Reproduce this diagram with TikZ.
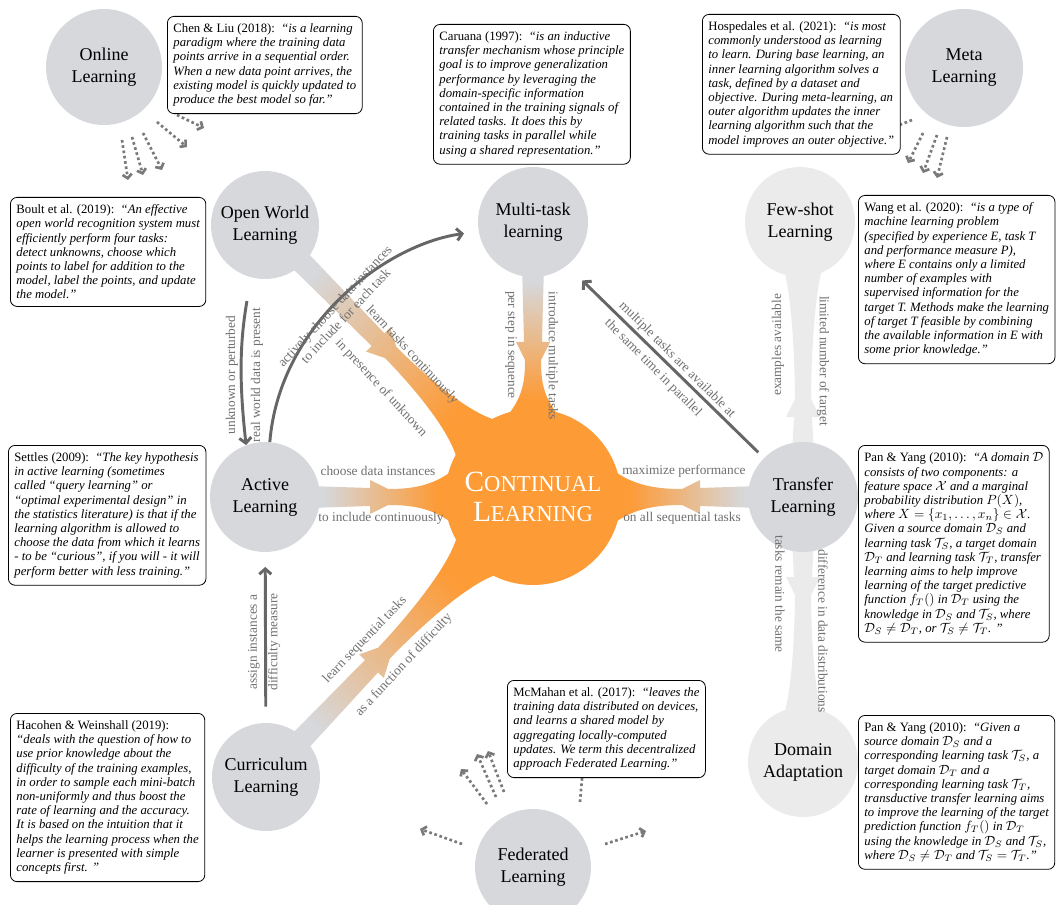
\documentclass[tikz,border=0pt]{standalone}
\usepackage{fontspec}
\setmainfont{Liberation Serif}
\usetikzlibrary{arrows.meta,backgrounds}

\definecolor{cgray}{HTML}{D6D8DC}
\definecolor{clight}{HTML}{EBEBEB}
\definecolor{corange}{HTML}{FD9B37}
\definecolor{carrow}{HTML}{666666}
\definecolor{clabel}{HTML}{707070}
\definecolor{cdot}{HTML}{7A7A7A}
\pgfdeclarehorizontalshading{funnelshade}{100bp}{color(0bp)=(cgray); color(30bp)=(cgray); color(67bp)=(corange); color(100bp)=(corange)}

\begin{document}
\begin{tikzpicture}[x=0.75pt,y=-0.75pt,
	circ/.style={circle, fill=cgray, inner sep=0pt, minimum size=82.5pt, align=center, font=\fontsize{13.5}{16.5}\selectfont},
	pale/.style={circ, fill=clight},
	core/.style={circle, fill=corange, inner sep=0pt, minimum size=132pt, align=center, text=white, font=\fontsize{17}{22}\selectfont},
	quote/.style={draw, line width=0.6pt, rounded corners=5pt, fill=white, anchor=north west, align=left, inner xsep=4.5pt, inner ysep=5.5pt, font=\fontsize{9.55}{10.65}\selectfont\itshape},
	lbl/.style={inner sep=0pt, text=clabel, font=\fontsize{10}{11}\selectfont},
	link/.style={draw=carrow, line width=2.2pt, -{Straight Barb[length=4pt,width=9pt]}},
	fan/.style={draw=cdot, line width=2pt, dash pattern=on 2pt off 2pt, -{Straight Barb[length=3pt,width=7pt]}}]
	\newcommand\Funnel[7]{%
		\begin{scope}[transform canvas={shift={(#1)},rotate=#2}]
			\path[#7] (#3-12,11) -- (#4,9) -- (#4,17) -- (#4+18,8)
				.. controls (#4+40,8) and (#5-8,10) .. (#5+16,#6)
				-- (#5+16,-#6)
				.. controls (#5-8,-10) and (#4+40,-8) .. (#4+18,-8)
				-- (#4,-17) -- (#4,-9) -- (#3-12,-11) -- cycle;
		\end{scope}}
	\newcommand\BigL[1]{{\fontsize{22}{22}\selectfont #1}}
	\newcommand\Src[1]{\textup{#1:}\enspace}

	\useasboundingbox (0,0) rectangle (1056,905);

	% topics
	\node[circ, minimum size=87pt] (online) at (104,67) {Online\\Learning};
	\node[circ, minimum size=88.5pt] (meta) at (964,68) {Meta\\Learning};
	\node[circ, minimum size=81pt] (ow) at (265,225) {Open World\\Learning};
	\node[circ] (multi) at (533,222) {Multi-task\\learning};
	\node[pale] (few) at (800,222) {Few-shot\\Learning};
	\node[circ] (act) at (265,497) {Active\\Learning};
	\node[circ] (trans) at (803,497) {Transfer\\Learning};
	\node[circ, minimum size=81pt] (cur) at (266,777) {Curriculum\\Learning};
	\node[pale] (dom) at (803,762) {Domain\\Adaptation};
	\node[circ, minimum size=87pt] (fed) at (533,867) {Federated\\Learning};
	\node[core] (cl) at (533,497) {\BigL{C}ONTINUAL\\\BigL{L}EARNING};

	% funnels into the centre
	\begin{scope}[on background layer]
		\fill[white] (0,0) rectangle (1056,905);
		\Funnel{ow}{-45.4}{54}{161}{294}{34}{shade, shading=funnelshade}
		\Funnel{multi}{-90}{55}{120}{187}{34}{shade, shading=funnelshade}
		\Funnel{act}{0}{55}{105}{180}{34}{shade, shading=funnelshade}
		\Funnel{trans}{180}{55}{103}{182}{34}{shade, shading=funnelshade}
		\Funnel{cur}{46.4}{54}{153}{299}{34}{shade, shading=funnelshade}
		\Funnel{trans}{90}{55}{80}{225}{24}{fill=clight}
		\Funnel{trans}{-90}{55}{80}{215}{24}{fill=clight}
	\end{scope}

	% dotted hints
	\foreach \sx/\sy/\ex/\ey in {18/73/6/40, 28/70/11/38, 39/66/19/37, 53/55/30/25, 73/48/27/13}
		\draw[fan] ([shift={(\sx,\sy)}]online.center) -- ++(\ex,\ey);
	\foreach \sx/\sy/\ex/\ey in {-41/65/-15/30, -27/67/-14/38, -17/69/-10/41, -52/52/-30/12}
		\draw[fan] ([shift={(\sx,\sy)}]meta.center) -- ++(\ex,\ey);
	\foreach \sx/\sy/\ex/\ey in {-46/-63/-26/-35, -37/-70/-19/-43, -29/-75/-16/-41, -71/-23/-42/-15, 72/-23/41/-13, 47/-65/3/-35}
		\draw[fan] ([shift={(\sx,\sy)}]fed.center) -- ++(\ex,\ey);

	% solid links
	\draw[link, shorten <=18pt] (ow.255) to[bend right=8] (act.110);
	\draw[link, shorten >=11pt] (act.85) .. controls +(10,-120) and +(-90,12) .. (multi.190);
	\draw[link, shorten <=6pt, shorten >=16pt] (trans.135) -- (multi.-52);
	\draw[link, shorten <=12pt, shorten >=11pt] (cur) -- (act);

	% labels
	\node[lbl] (l1) at (378,471) {choose data instances};
	\node[lbl] (l2) at (381,518) {to include continuously};
	\node[lbl] (l3) at (684,471) {maximize performance};
	\node[lbl] (l4) at (682,518) {on all sequential tasks};
	\node[lbl, rotate=-90] (l5) at (511,345) {per step in sequence};
	\node[lbl, rotate=-90] (l6) at (552,356) {introduce multiple tasks};
	\node[lbl, rotate=-47] (l7) at (412,355) {learn tasks continuously};
	\node[lbl, rotate=-47] (l8) at (381,388) {in presence of unknown};
	\node[lbl, rotate=47, align=center] (l9) at (340,311) {actively choose data instances\\to include for each task};
	\node[lbl, rotate=-45] (l10) at (677,360) {multiple tasks are available at};
	\node[lbl, rotate=-45] (l10b) at (653,368) {the same time in parallel};
	\node[lbl, rotate=46] (l11) at (365,640) {learn sequential tasks};
	\node[lbl, rotate=47] (l12) at (404,665) {as a function of difficulty};
	\node[lbl, rotate=90] (l13) at (232,375) {unknown or perturbed};
	\node[lbl, rotate=90] (l14) at (257,375) {real world data is present};
	\node[lbl, rotate=90] (l15) at (254,642) {assign instances a};
	\node[lbl, rotate=90] (l16) at (274,642) {difficulty measure};
	\node[lbl, rotate=90] (l17) at (778,345) {examples available};
	\node[lbl, rotate=-90] (l18) at (823,361) {limited number of target};
	\node[lbl, rotate=-90] (l19) at (780,594) {tasks remain the same};
	\node[lbl, rotate=-90] (l20) at (823,631) {difference in data distributions};

	% definitions
	\node[quote] (chen) at (167,16) {\Src{Chen \& Liu (2018)}``is a learning\\
		paradigm where the training data\\
		points arrive in a sequential order.\\
		When a new data point arrives, the\\
		existing model is quickly updated to\\
		produce the best model so far.''};
	\node[quote] (caruana) at (433,24) {\Src{Caruana (1997)}``is an inductive\\
		transfer mechanism whose principle\\
		goal is to improve generalization\\
		performance by leveraging the\\
		domain-specific information\\
		contained in the training signals of\\
		related tasks. It does this by\\
		training tasks in parallel while\\
		using a shared representation.''};
	\node[quote] (hosp) at (702,14) {\Src{Hospedales et al. (2021)}``is most\\
		commonly understood as learning\\
		to learn. During base learning, an\\
		inner learning algorithm solves a\\
		task, defined by a dataset and\\
		objective. During meta-learning, an\\
		outer algorithm updates the inner\\
		learning algorithm such that the\\
		model improves an outer objective.''};
	\node[quote] (boult) at (10,197) {\Src{Boult et al. (2019)}``An effective\\
		open world recognition system must\\
		efficiently perform four tasks:\\
		detect unknowns, choose which\\
		points to label for addition to the\\
		model, label the points, and update\\
		the model.''};
	\node[quote] (wang) at (858,195) {\Src{Wang et al. (2020)}``is a type of\\
		machine learning problem\\
		(specified by experience E, task T\\
		and performance measure P),\\
		where E contains only a limited\\
		number of examples with\\
		supervised information for the\\
		target T. Methods make the learning\\
		of target T feasible by combining\\
		the available information in E with\\
		some prior knowledge.''};
	\node[quote] (settles) at (8,445) {\Src{Settles (2009)}``The key hypothesis\\
		in active learning (sometimes\\
		called ``query learning'' or\\
		``optimal experimental design'' in\\
		the statistics literature) is that if the\\
		learning algorithm is allowed to\\
		choose the data from which it learns\\
		- to be ``curious'', if you will - it will\\
		perform better with less training.''};
	\node[quote] (pan1) at (858,445) {\Src{Pan \& Yang (2010)}``A domain $\mathcal{D}$\\
		consists of two components: a\\
		feature space $\mathcal{X}$ and a marginal\\
		probability distribution $P(X)$,\\
		where $X=\{x_1,\ldots,x_n\}\in\mathcal{X}$.\\
		Given a source domain $\mathcal{D}_S$ and\\
		learning task $\mathcal{T}_S$, a target domain\\
		$\mathcal{D}_T$ and learning task $\mathcal{T}_T$, transfer\\
		learning aims to help improve\\
		learning of the target predictive\\
		function $f_T()$ in $\mathcal{D}_T$ using the\\
		knowledge in $\mathcal{D}_S$ and $\mathcal{T}_S$, where\\
		$\mathcal{D}_S\neq\mathcal{D}_T$, or $\mathcal{T}_S\neq\mathcal{T}_T$. ''};
	\node[quote] (hacohen) at (10,713) {\textup{Hacohen \& Weinshall (2019):}\\
		``deals with the question of how to\\
		use prior knowledge about the\\
		difficulty of the training examples,\\
		in order to sample each mini-batch\\
		non-uniformly and thus boost the\\
		rate of learning and the accuracy.\\
		It is based on the intuition that it\\
		helps the learning process when the\\
		learner is presented with simple\\
		concepts first. ''};
	\node[quote] (mcmahan) at (507,680) {\Src{McMahan et al. (2017)}``leaves the\\
		training data distributed on devices,\\
		and learns a shared model by\\
		aggregating locally-computed\\
		updates. We term this decentralized\\
		approach Federated Learning.''};
	\node[quote] (pan2) at (858,715) {\Src{Pan \& Yang (2010)}``Given a\\
		source domain $\mathcal{D}_S$ and a\\
		corresponding learning task $\mathcal{T}_S$, a\\
		target domain $\mathcal{D}_T$ and a\\
		corresponding learning task $\mathcal{T}_T$,\\
		transductive transfer learning aims\\
		to improve the learning of the target\\
		prediction function $f_T()$ in $\mathcal{D}_T$\\
		using the knowledge in $\mathcal{D}_S$ and $\mathcal{T}_S$,\\
		where $\mathcal{D}_S\neq\mathcal{D}_T$ and $\mathcal{T}_S=\mathcal{T}_T$.''};
\end{tikzpicture}
\end{document}
